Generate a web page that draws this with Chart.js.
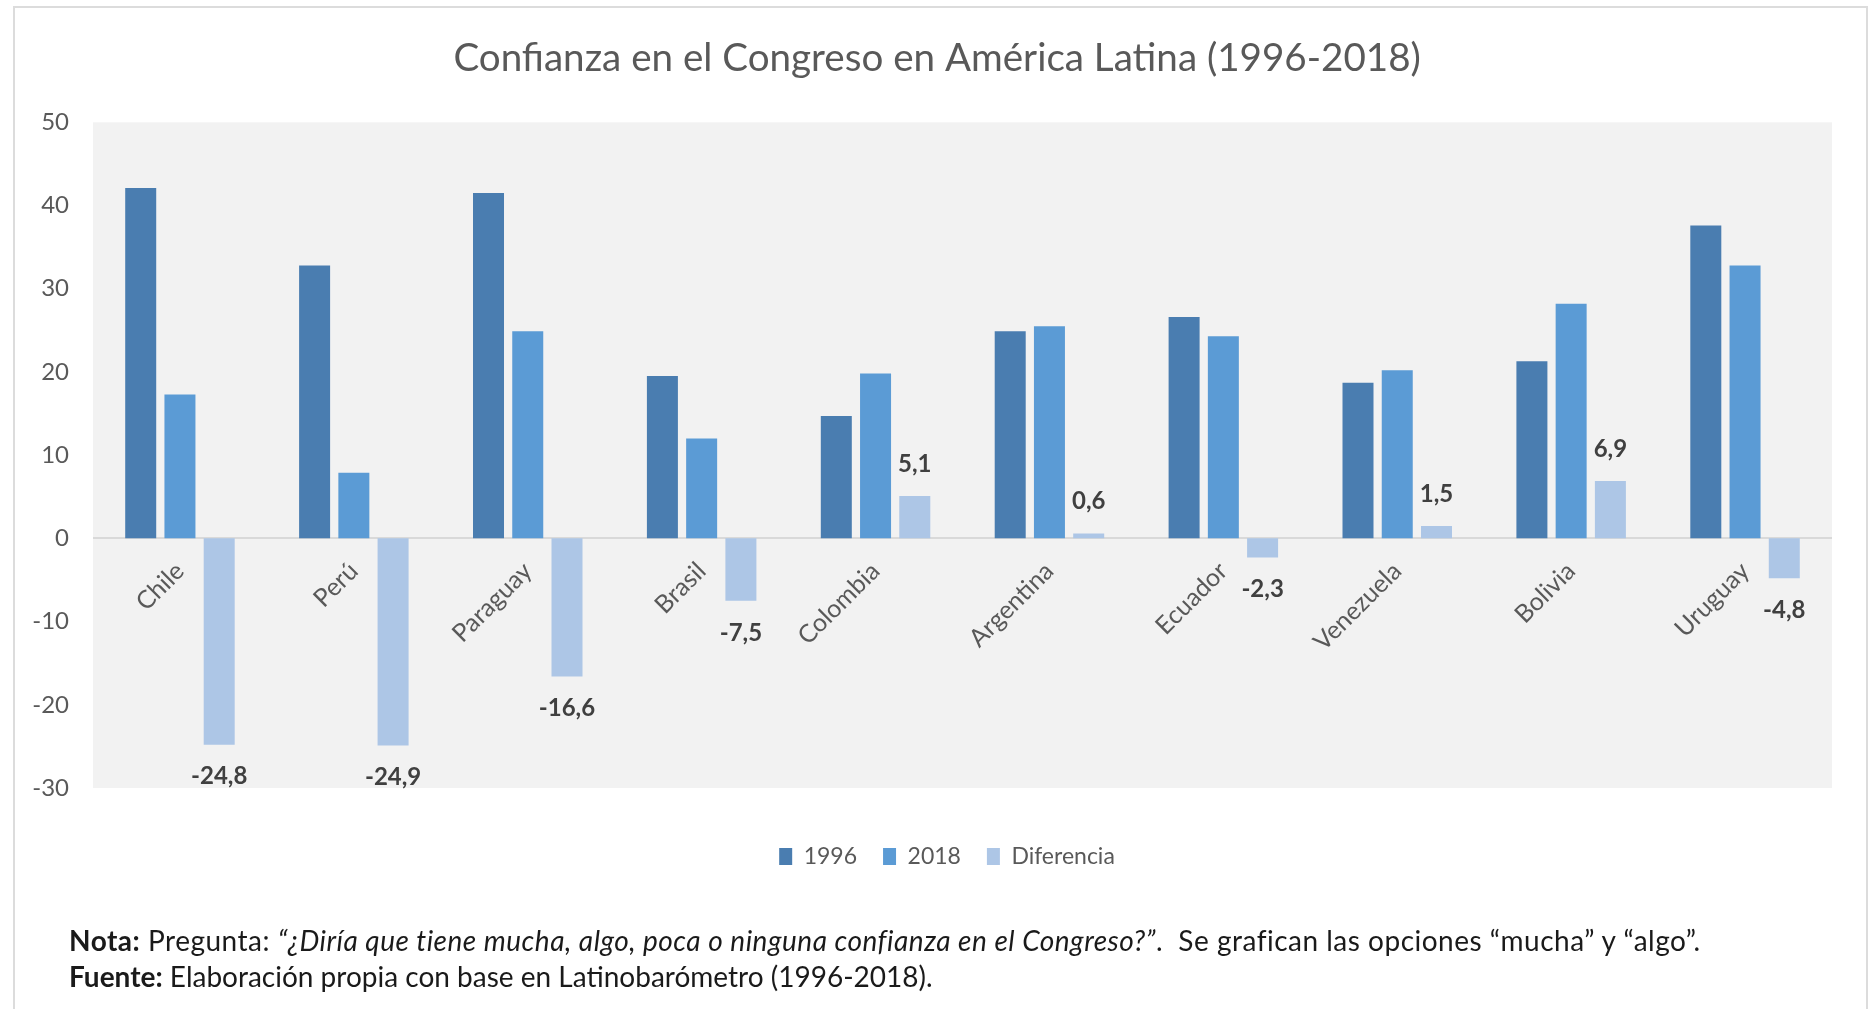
<!DOCTYPE html>
<html>
<head>
<meta charset="utf-8">
<script src="https://cdn.jsdelivr.net/npm/chart.js@4.4.0/dist/chart.umd.min.js"></script>
<style>
  body { margin: 0; background: #fff; }
  #wrap { position: relative; width: 1876px; height: 1009px; overflow: hidden; }
  #frame { position: absolute; left: 13px; top: 6px; width: 1851px; height: 1100px; border: 2px solid #dcdcdc; }
  canvas { position: absolute; left: 0; top: 0; }
  .nota { position: absolute; left: 69px; font-family: Lato, sans-serif; font-size: 28px; line-height: 32px; color: #1a1a1a; white-space: nowrap; }
</style>
</head>
<body>
<div id="wrap">
  <div id="frame"></div>
  <canvas id="myChart" width="1876" height="1009"></canvas>
  <div class="nota" style="top:924px; letter-spacing:0.5px"><b>Nota:</b> Pregunta: <i>“¿Diría que tiene mucha, algo, poca o ninguna confianza en el Congreso?”</i>.&nbsp; Se grafican las opciones “mucha” y “algo”.</div>
  <div class="nota" style="top:960px"><b>Fuente:</b> Elaboración propia con base en Latinobarómetro (1996-2018).</div>
</div>
<script>
// datos
const countries = ['Chile', 'Perú', 'Paraguay', 'Brasil', 'Colombia', 'Argentina', 'Ecuador', 'Venezuela', 'Bolivia', 'Uruguay'];
const conf1996 = [42.1, 32.8, 41.5, 19.5, 14.7, 24.9, 26.6, 18.7, 21.3, 37.6];
const conf2018 = [17.3, 7.9, 24.9, 12.0, 19.8, 25.5, 24.3, 20.2, 28.2, 32.8];
const diferencia = [-24.8, -24.9, -16.6, -7.5, 5.1, 0.6, -2.3, 1.5, 6.9, -4.8];
const seriesNames = ['1996', '2018', 'Diferencia'];
const yMin = -30, yMax = 50, yStep = 10;

Chart.defaults.font.family = 'Lato';
Chart.defaults.color = '#595959';

// fondo gris del area de trazado
const plotBg = {
  id: 'plotBg',
  beforeDraw(chart) {
    const {ctx, chartArea: a} = chart;
    ctx.save();
    ctx.fillStyle = '#f2f2f2';
    ctx.fillRect(a.left, a.top, a.right - a.left, a.bottom - a.top);
    ctx.restore();
  }
};

// etiquetas de la serie Diferencia
const difLabels = {
  id: 'difLabels',
  afterDatasetsDraw(chart) {
    const ctx = chart.ctx;
    const meta = chart.getDatasetMeta(2);
    ctx.save();
    ctx.font = 'bold 24px Lato';
    ctx.fillStyle = '#404040';
    ctx.textAlign = 'center';
    ctx.textBaseline = 'middle';
    meta.data.forEach((bar, i) => {
      const v = diferencia[i];
      const y = v >= 0 ? bar.y - 32 : bar.y + 32;
      ctx.fillText(v.toFixed(1).replace('.', ','), bar.x, y);
    });
    ctx.restore();
  }
};

const ctx = document.querySelector('#myChart').getContext('2d');
const chart = new Chart(ctx, {
  type: 'bar',
  data: {
    labels: countries,
    datasets: [
      { label: seriesNames[0], data: conf1996, backgroundColor: '#4a7db0' },
      { label: seriesNames[1], data: conf2018, backgroundColor: '#5b9bd5' },
      { label: seriesNames[2], data: diferencia, backgroundColor: '#adc6e6' }
    ]
  },
  options: {
    responsive: false,
    animation: false,
    datasets: { bar: { barPercentage: 0.79, categoryPercentage: 0.677 } },
    layout: { padding: { left: 30, right: 12, top: 0, bottom: 131 } },
    scales: {
      x: {
        position: { y: 0 },
        grid: { display: false, drawTicks: false },
        border: { display: false },
        ticks: { autoSkip: false, minRotation: 45, maxRotation: 45, padding: 18, color: '#595959', font: { size: 25 } }
      },
      // ejes vacios solo para reservar espacio
      x2: {
        type: 'category',
        axis: 'x',
        position: 'bottom',
        grid: { display: false, drawTicks: false },
        border: { display: false },
        ticks: { display: false },
        afterFit(s) { s.height = 31; }
      },
      y2: {
        type: 'linear',
        axis: 'y',
        position: 'right',
        grid: { display: false, drawTicks: false },
        border: { display: false },
        ticks: { display: false },
        afterFit(s) { s.width = 32; }
      },
      y: {
        min: yMin,
        max: yMax,
        ticks: { stepSize: yStep, padding: 24, color: '#595959', font: { size: 24 } },
        grid: {
          drawTicks: false,
          color: c => (c.tick && c.tick.value === 0 ? '#d9d9d9' : 'rgba(0,0,0,0)'),
          lineWidth: 2
        },
        border: { display: false },
        afterFit(s) { s.width = 63; }
      }
    },
    plugins: {
      title: {
        display: true,
        text: 'Confianza en el Congreso en América Latina (1996-2018)\u00a0\u00a0',
        color: '#595959',
        font: { size: 38.6, weight: 'normal' },
        padding: { top: 35, bottom: 41 }
      },
      legend: {
        position: 'bottom',
        labels: { boxWidth: 13, boxHeight: 17, padding: 26, color: '#595959', font: { size: 23 } }
      },
      tooltip: { enabled: false }
    }
  },
  plugins: [plotBg, difLabels]
});
</script>
</body>
</html>
